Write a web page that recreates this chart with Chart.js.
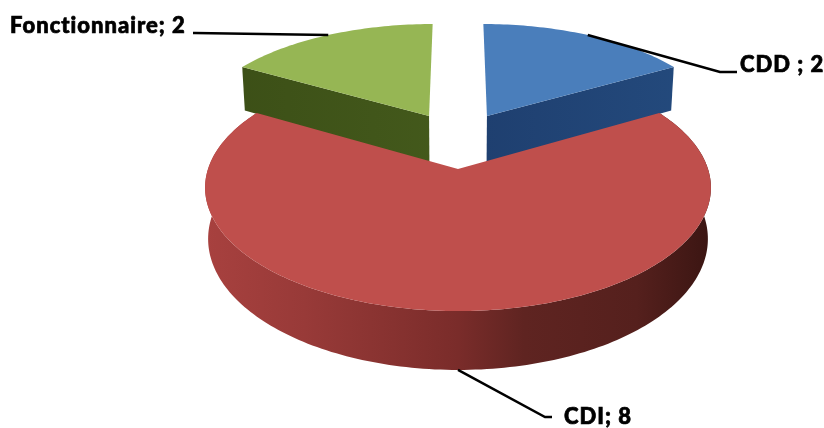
<!DOCTYPE html>
<html>
<head>
<meta charset="utf-8">
<style>html,body{margin:0;padding:0;background:#fff}canvas{display:block}</style>
<script src="https://cdn.jsdelivr.net/npm/chart.js@4"></script>
</head>
<body>
<canvas id="c" width="824" height="428"></canvas>
<script>
const categories = ["CDD", "CDI", "Fonctionnaire"];
const values = [2, 8, 2];
const labelTexts = ["CDD ; 2", "CDI; 8", "Fonctionnaire; 2"];
const topColors = ["#4a7ebb", "#bf4f4c", "#96b654"];

// 3D view settings
const view = {A: 2.5, B: 1.205, persp: 0.1515, depth: 0.5, taper: 0.988};
const explode = [[0.124, 0.471], [0, 0], [-0.124, 0.471]];
const labelStyle = [
  {elbow: [720, 72], end: [737, 72], text: [740, 72], align: "left"},
  {elbow: [545, 417], end: [552, 417], text: [564, 424], align: "left"},
  {elbow: [195, 33], end: [193, 33], text: [10, 33], align: "left"}
];

const pie3d = {
  id: "pie3d",
  beforeDatasetsDraw(chart) {
    const ctx = chart.ctx;
    const arcs = chart.getDatasetMeta(0).data;
    const cx = arcs[0].x, cy = arcs[0].y, R = arcs[0].outerRadius;
    const proj = (u, v) => {
      const D = 1 + view.persp * v;
      return {x: cx + view.A * R * u / D, y: cy - view.B * R * v / D, D};
    };
    const lower = p => ({x: cx + (p.x - cx) * view.taper, y: p.y + view.depth * R / p.D});
    const geom = i => {
      const a = arcs[i], [du, dv] = explode[i], pts = [];
      const steps = Math.ceil((a.endAngle - a.startAngle) / 0.02);
      for (let k = 0; k <= steps; k++) {
        const t = a.startAngle + (a.endAngle - a.startAngle) * k / steps;
        pts.push(proj(du + Math.cos(t), dv - Math.sin(t)));
      }
      return {apex: proj(du, dv), pts, du, dv};
    };
    const fillPoly = (list, fill) => {
      ctx.beginPath();
      list.forEach((p, k) => k ? ctx.lineTo(p.x, p.y) : ctx.moveTo(p.x, p.y));
      ctx.closePath();
      ctx.fillStyle = fill;
      ctx.fill();
    };
    const hGrad = stops => {
      const g = ctx.createLinearGradient(cx - 2.55 * R, 0, cx + 2.55 * R, 0);
      stops.forEach(s => g.addColorStop(s[0], s[1]));
      return g;
    };
    // back slices: radial wall then top
    const g0 = geom(0), g2 = geom(2);
    const c0 = g0.pts[g0.pts.length - 1], c2 = g2.pts[0];
    fillPoly([g0.apex, c0, lower(c0), lower(g0.apex)], hGrad([[0.5, "#1e3e6e"], [1, "#244b7e"]]));
    fillPoly([g2.apex, c2, lower(c2), lower(g2.apex)], hGrad([[0, "#3b4e16"], [0.5, "#445a1c"]]));
    fillPoly([g0.apex, ...g0.pts], chart.data.datasets[0].backgroundColor[0]);
    fillPoly([g2.apex, ...g2.pts], chart.data.datasets[0].backgroundColor[2]);
    // front slice: outer wall then top
    const g1 = geom(1);
    fillPoly([...g1.pts, ...g1.pts.map(lower).reverse()], hGrad([
      [0, "#a8413f"], [0.2, "#983a38"], [0.5, "#7a2c2a"], [0.63, "#5f2421"], [0.85, "#55201d"], [1, "#3a1512"]
    ]));
    fillPoly([g1.apex, ...g1.pts], chart.data.datasets[0].backgroundColor[1]);
    // leaders and labels
    ctx.strokeStyle = "#000";
    ctx.lineWidth = 2.5;
    ctx.fillStyle = "#000";
    ctx.font = "900 22px Lato";
    ctx.letterSpacing = "1px";
    ctx.textBaseline = "alphabetic";
    arcs.forEach((a, i) => {
      const mid = (a.startAngle + a.endAngle) / 2;
      let p = proj(explode[i][0] + Math.cos(mid), explode[i][1] - Math.sin(mid));
      if (Math.sin(mid) > 0.9) p = lower(p);
      const s = labelStyle[i];
      ctx.lineWidth = 2.5;
      ctx.beginPath();
      ctx.moveTo(p.x, p.y);
      ctx.lineTo(s.elbow[0], s.elbow[1]);
      ctx.lineTo(s.end[0], s.end[1]);
      ctx.stroke();
      ctx.textAlign = s.align;
      ctx.fillStyle = "#000";
      ctx.lineWidth = 0.7;
      ctx.fillText(labelTexts[i], s.text[0], s.text[1]);
      ctx.strokeText(labelTexts[i], s.text[0], s.text[1]);
    });
    return false;
  }
};

new Chart(document.getElementById("c"), {
  type: "pie",
  data: {labels: categories, datasets: [{data: values, backgroundColor: topColors, borderWidth: 0}]},
  options: {
    responsive: false,
    animation: false,
    layout: {padding: {left: 358, right: 266, top: 69, bottom: 159}},
    plugins: {legend: {display: false}, tooltip: {enabled: false}}
  },
  plugins: [pie3d]
});
</script>
</body>
</html>
